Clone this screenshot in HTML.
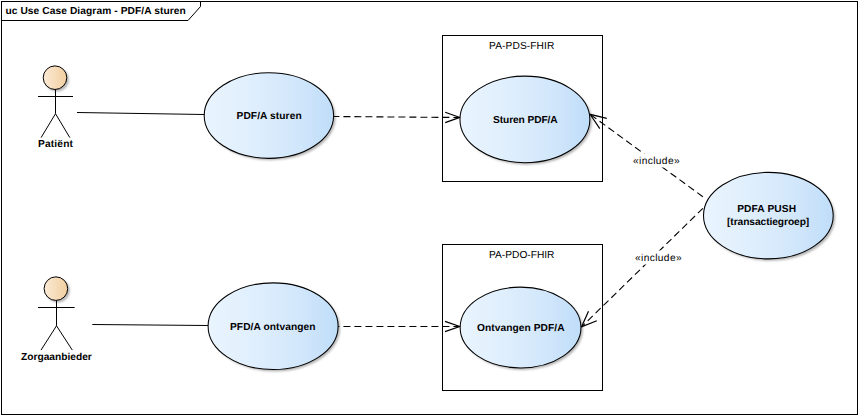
<!DOCTYPE html>
<html><head><meta charset="utf-8">
<style>
html,body{margin:0;padding:0;background:#fff;}
svg{display:block;}
text{font-family:"Liberation Sans",sans-serif;font-size:10.2px;fill:#000;text-rendering:geometricPrecision;}
.b{font-weight:bold;}
</style></head>
<body>
<svg width="858" height="415" viewBox="0 0 858 415">
<defs>
<linearGradient id="ug" x1="0" y1="0" x2="1" y2="0">
<stop offset="0" stop-color="#e9f4fe"/><stop offset="0.35" stop-color="#e0effd"/><stop offset="0.7" stop-color="#d2e7fb"/><stop offset="1" stop-color="#bfddf9"/>
</linearGradient>
<linearGradient id="hg" x1="0" y1="0" x2="1" y2="0">
<stop offset="0" stop-color="#fbead6"/><stop offset="1" stop-color="#f1cf9f"/>
</linearGradient>
<filter id="sh" x="-20%" y="-20%" width="140%" height="140%"><feGaussianBlur stdDeviation="0.8"/></filter>
</defs>
<rect x="0" y="0" width="858" height="415" fill="#fff"/>
<!-- frame -->
<rect x="1.5" y="1.5" width="856" height="413" fill="none" stroke="#000" stroke-width="1"/>
<path d="M1.5 20.5 H188 L200.5 6.5 V1.5" fill="none" stroke="#000" stroke-width="1"/>

<!-- boxes -->
<rect x="442.5" y="35.5" width="160" height="146" fill="none" stroke="#000"/>
<rect x="442.5" y="244.5" width="160" height="146" fill="none" stroke="#000"/>

<!-- associations -->
<g stroke="#000" fill="none" stroke-width="1">
<path d="M77 112.5 L204.4 114.5"/>
<path d="M92.3 324.5 L208 325.5"/>
</g>

<!-- shadows -->
<g fill="#b4b4b4" filter="url(#sh)">
<ellipse cx="270.9" cy="117.5" rx="64.7" ry="42.85"/>
<ellipse cx="526.9" cy="121.4" rx="64.95" ry="43.25"/>
<ellipse cx="275.1" cy="328.2" rx="65" ry="43.35"/>
<ellipse cx="522.55" cy="329.5" rx="60.4" ry="40.4"/>
<ellipse cx="770.35" cy="217.6" rx="64.85" ry="43.25"/>
<circle cx="57" cy="79.7" r="11.8"/>
<circle cx="57.9" cy="290.65" r="11.8"/>
</g>

<!-- dashed -->
<g stroke="#000" fill="none" stroke-dasharray="7,4" stroke-width="1.1">
<path d="M332.4 116.5 L459.5 117.5"/>
<path d="M332.4 326.5 L460 326.5"/>
<path d="M702.9 196.8 L590.1 114.3"/>
<path d="M702.9 208.3 L581.5 326.9"/>
</g>
<g stroke="#000" fill="none" stroke-width="1.2">
<path d="M445.2 112.3 L459.7 117.4 L445.2 122.6"/>
<path d="M445 321.4 L459.7 326.5 L445 331.6"/>
<path d="M606.8 118.3 L590.1 114.3 L599.8 128.6"/>
<path d="M588.5 311.2 L581.5 326.9 L596.8 320.8"/>
</g>
<rect x="631" y="153.5" width="50" height="14" fill="#fff"/>
<rect x="633" y="250.5" width="50" height="14" fill="#fff"/>

<!-- use cases -->
<g stroke="#000" stroke-width="1.05">
<ellipse cx="268.9" cy="115.5" rx="64.7" ry="42.85" fill="url(#ug)"/>
<ellipse cx="524.9" cy="119.4" rx="64.95" ry="43.25" fill="url(#ug)"/>
<ellipse cx="273.1" cy="326.2" rx="65" ry="43.35" fill="url(#ug)"/>
<ellipse cx="520.55" cy="327.5" rx="60.4" ry="40.4" fill="url(#ug)"/>
<ellipse cx="768.35" cy="215.6" rx="64.85" ry="43.25" fill="url(#ug)"/>
</g>

<!-- actors -->
<g stroke="#000" fill="none" stroke-width="1">
<circle cx="55" cy="77.7" r="11.8" fill="url(#hg)"/>
<path d="M55.5 89.5 V113.7 M38 96.5 H73 M55.5 113.7 L41.1 137.6 M55.5 113.7 L69.8 137.6"/>
<circle cx="55.9" cy="288.65" r="11.8" fill="url(#hg)"/>
<path d="M56.5 300.5 V325.8 M38 307.5 H74.7 M56.5 325.8 L41 350.1 M56.5 325.8 L72.3 350.1"/>
</g>
<g>
<text class="b" x="5.4" y="14" style="letter-spacing:0.091px">uc Use Case Diagram - PDF/A sturen</text>
<text class="b" x="38" y="147" style="letter-spacing:0.167px">Patiënt</text>
<text class="b" x="21" y="360" style="letter-spacing:0.0px">Zorgaanbieder</text>
<text class="b" x="236.5" y="119" style="letter-spacing:0.091px">PDF/A sturen</text>
<text class="b" x="493" y="123" style="letter-spacing:-0.091px">Sturen PDF/A</text>
<text class="b" x="230" y="330" style="letter-spacing:0.071px">PFD/A ontvangen</text>
<text class="b" x="477" y="331" style="letter-spacing:0.071px">Ontvangen PDF/A</text>
<text class="b" x="737.2" y="212" style="letter-spacing:0.125px">PDFA PUSH</text>
<text class="b" x="727" y="225" style="letter-spacing:-0.062px">[transactiegroep]</text>
<text x="489" y="49" style="letter-spacing:0.1px">PA-PDS-FHIR</text>
<text x="489" y="258" style="letter-spacing:0.0px">PA-PDO-FHIR</text>
<text x="633" y="164" style="letter-spacing:0.375px">«include»</text>
<text x="635" y="261" style="letter-spacing:0.375px">«include»</text>
</g>
</svg>
</body></html>
